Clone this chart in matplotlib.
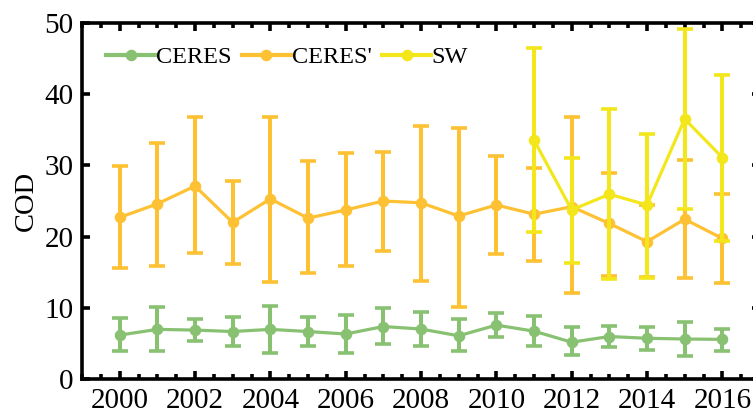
import matplotlib
matplotlib.use("Agg")
import matplotlib.pyplot as plt
from matplotlib.ticker import MultipleLocator

plt.rcParams['font.family'] = ['Liberation Serif', 'DejaVu Serif']
plt.rcParams['mathtext.fontset'] = 'stix'

years = list(range(2000, 2017))

# CERES cloud optical depth: mean, upper and lower whisker ends
ceres_mean = [6.2, 7.0, 6.9, 6.7, 7.0, 6.7, 6.35, 7.4, 7.05, 6.1, 7.6, 6.75, 5.2, 6.0, 5.75, 5.65, 5.6]
ceres_high = [8.55, 10.2, 8.45, 8.8, 10.25, 8.8, 9.0, 9.95, 9.5, 8.4, 9.25, 8.9, 7.3, 7.5, 7.4, 8.1, 7.05]
ceres_low = [3.9, 3.9, 5.35, 4.7, 3.65, 4.6, 3.75, 4.95, 4.6, 3.9, 6.0, 4.6, 3.4, 4.5, 4.1, 3.3, 4.0]

# CERES' cloud optical depth
ceresp_mean = [22.7, 24.6, 27.1, 22.0, 25.3, 22.6, 23.75, 25.0, 24.75, 22.9, 24.45, 23.15, 24.2, 21.85, 19.3, 22.45, 19.75]
ceresp_high = [29.9, 33.2, 36.8, 27.85, 36.8, 30.65, 31.7, 31.9, 35.5, 35.3, 31.3, 29.65, 36.8, 28.95, 24.4, 30.75, 26.05]
ceresp_low = [15.55, 15.9, 17.75, 16.1, 13.7, 14.85, 15.9, 18.05, 13.8, 10.2, 17.5, 16.6, 12.15, 14.5, 14.3, 14.25, 13.55]

# SW cloud optical depth (2011 onward)
sw_years = [2011, 2012, 2013, 2014, 2015, 2016]
sw_mean = [33.55, 23.75, 25.95, 24.45, 36.5, 31.1]
sw_high = [46.5, 31.05, 37.95, 34.45, 49.1, 42.65]
sw_low = [20.7, 16.25, 14.0, 14.25, 23.95, 19.45]

c_green = '#88c172'
c_orange = '#fdc133'
c_yellow = '#f3e71b'

fig = plt.figure(figsize=(7.53, 4.18), dpi=100)
ax = fig.add_axes([0.1089, 0.0926, 0.9004, 0.853])


def draw(ax, x, mean, high, low, color, label, ms=7.3):
    lower = [m - l for m, l in zip(mean, low)]
    upper = [h - m for m, h in zip(mean, high)]
    ax.errorbar(x, mean, yerr=[lower, upper], fmt='none', ecolor=color,
                elinewidth=2.9, capsize=5.5, capthick=2.6)
    line, = ax.plot(x, mean, color=color, lw=2.3, marker='o', ms=ms, label=label)
    return line


handles = [
    draw(ax, years, ceres_mean, ceres_high, ceres_low, c_green, 'CERES'),
    draw(ax, years, ceresp_mean, ceresp_high, ceresp_low, c_orange, "CERES'"),
    draw(ax, sw_years, sw_mean, sw_high, sw_low, c_yellow, 'SW'),
]

ax.set_xlim(1999, 2017)
ax.set_ylim(0, 50)
ax.xaxis.set_major_locator(MultipleLocator(2))
ax.xaxis.set_minor_locator(MultipleLocator(0.5))
ax.yaxis.set_major_locator(MultipleLocator(10))

for s in ax.spines.values():
    s.set_linewidth(2.6)

ax.tick_params(axis='both', which='major', direction='in', length=5.5, width=2.6,
               labelsize=21, top=True, right=True, pad=6)
ax.tick_params(axis='x', which='minor', direction='in', length=3.5, width=2.6,
               top=True)
ax.tick_params(axis='y', which='minor', left=False, right=False)

ax.set_ylabel('COD', fontsize=20.5, labelpad=4)

leg = ax.legend(handles=handles, loc='center left', bbox_to_anchor=(0.036, 0.903),
                ncol=3, frameon=False, fontsize=17.5, handlelength=2.0,
                handletextpad=0.03, columnspacing=0.45, borderpad=0,
                borderaxespad=0)
for h in leg.legend_handles:
    h.set_linewidth(3.0)

fig.savefig('out.png', dpi=100)
